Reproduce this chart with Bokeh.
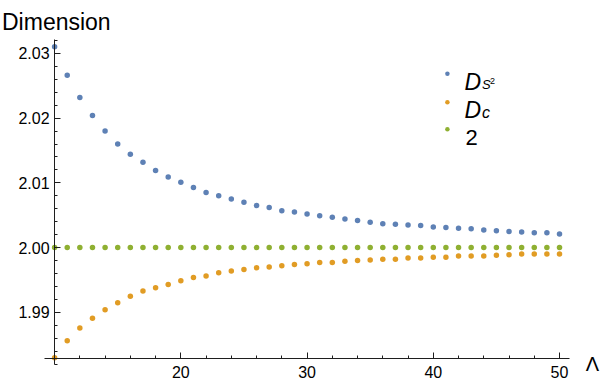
from bokeh.plotting import figure
from bokeh.models import Range1d, LinearAxis, FixedTicker, PrintfTickFormatter, Label
from bokeh.embed import file_html
from bokeh.resources import INLINE

# ---------------- data ----------------
lam = [10, 11, 12, 13, 14, 15, 16, 17, 18, 19, 20, 21, 22, 23, 24, 25, 26, 27, 28, 29,
       30, 31, 32, 33, 34, 35, 36, 37, 38, 39, 40, 41, 42, 43, 44, 45, 46, 47, 48, 49, 50]

d_s2 = [2.0310, 2.0266, 2.0232, 2.0204, 2.0180, 2.0160, 2.0144, 2.0132, 2.0119, 2.0109,
        2.0101, 2.0093, 2.0085, 2.0080, 2.0075, 2.0070, 2.0065, 2.0062, 2.0057, 2.0055,
        2.0052, 2.0049, 2.0047, 2.0044, 2.0042, 2.0039, 2.0037, 2.0036, 2.0035, 2.0034,
        2.0032, 2.0031, 2.0030, 2.0029, 2.0027, 2.0026, 2.0025, 2.0024, 2.0023, 2.0023,
        2.0021]

d_c = [1.9830, 1.9856, 1.9876, 1.9891, 1.9904, 1.9915, 1.9925, 1.9933, 1.9938, 1.9943,
       1.9949, 1.9954, 1.9956, 1.9961, 1.9964, 1.9966, 1.9969, 1.9970, 1.9972, 1.9974,
       1.9975, 1.9977, 1.9977, 1.9979, 1.9980, 1.9981, 1.9982, 1.9982, 1.9984, 1.9984,
       1.9985, 1.9985, 1.9987, 1.9987, 1.9987, 1.9988, 1.9989, 1.9990, 1.9990, 1.9990,
       1.9990]

two = [2.0, 2.0, 2.0, 2.0, 2.0, 2.0, 2.0, 2.0, 2.0, 2.0,
       2.0, 2.0, 2.0, 2.0, 2.0, 2.0, 2.0, 2.0, 2.0, 2.0,
       2.0, 2.0, 2.0, 2.0, 2.0, 2.0, 2.0, 2.0, 2.0, 2.0,
       2.0, 2.0, 2.0, 2.0, 2.0, 2.0, 2.0, 2.0, 2.0, 2.0,
       2.0]

x_major = [20, 30, 40, 50]
x_minor = [12, 14, 16, 18, 22, 24, 26, 28, 32, 34, 36, 38, 42, 44, 46, 48]
y_major = [1.99, 2.00, 2.01, 2.02, 2.03]
y_minor = [1.982, 1.984, 1.986, 1.988, 1.992, 1.994, 1.996, 1.998, 2.002, 2.004,
           2.006, 2.008, 2.012, 2.014, 2.016, 2.018, 2.022, 2.024, 2.026, 2.028, 2.032]

BLUE = "#5E81B5"
ORANGE = "#E19C24"
GREEN = "#8FB032"
FONT = "Liberation Sans"
AXC = "#1e1e1e"

# ---------------- layout ----------------
W, H = 601, 388
X0, X1 = 5.714, 53.326
Y0, Y1 = 1.978240, 2.038162


def dx(sx):
    return X0 + sx / W * (X1 - X0)


def dy(sy):
    return Y1 - sy / H * (Y1 - Y0)


p = figure(width=W, height=H, x_range=Range1d(X0, X1), y_range=Range1d(Y0, Y1),
           output_backend="svg", toolbar_location=None,
           x_axis_type=None, y_axis_type=None, min_border=0)
p.title.visible = False
p.outline_line_color = None
p.background_fill_color = "white"
p.border_fill_color = "white"

xaxis = LinearAxis(fixed_location=1.98292, bounds=(9.2, 50.8),
                   ticker=FixedTicker(ticks=x_major, minor_ticks=x_minor),
                   formatter=PrintfTickFormatter(format="%d"))
yaxis = LinearAxis(fixed_location=10, bounds=(1.9819, 2.0321),
                   ticker=FixedTicker(ticks=y_major, minor_ticks=y_minor),
                   formatter=PrintfTickFormatter(format="%.2f"))
for ax in (xaxis, yaxis):
    ax.axis_line_color = AXC
    ax.axis_line_width = 1
    ax.major_tick_line_color = AXC
    ax.minor_tick_line_color = AXC
    ax.major_tick_in = 6
    ax.major_tick_out = 0
    ax.minor_tick_in = 3
    ax.minor_tick_out = 0
    ax.major_label_text_font = FONT
    ax.major_label_text_font_size = "16px"
    ax.major_label_text_color = "black"
xaxis.major_label_standoff = 8
yaxis.major_label_standoff = 5
p.add_layout(xaxis, "below")
p.add_layout(yaxis, "left")

p.scatter(lam, d_s2, size=5.5, color=BLUE, line_width=0)
p.scatter(lam, d_c, size=5.5, color=ORANGE, line_width=0)
p.scatter(lam, two, size=5.5, color=GREEN, line_width=0)

# axis titles
p.add_layout(Label(x=dx(1.5), y=dy(21.7), text="Dimension", text_font=FONT,
                   text_font_size="23px", text_baseline="alphabetic", text_align="left",
                   text_color="black"))
p.add_layout(Label(x=dx(598.5), y=dy(363.3), text="Λ", text_font=FONT,
                   text_font_size="20px", text_baseline="alphabetic", text_align="right",
                   text_color="black"))

# legend
leg_y = [73.3, 101.7, 128.7]
p.scatter([dx(446.9)] * 3, [dy(v) for v in leg_y], size=4.5,
          color=[BLUE, ORANGE, GREEN], line_width=0)


def lab(sx, sy, text, size, style="normal"):
    p.add_layout(Label(x=dx(sx), y=dy(sy), text=text, text_font=FONT,
                       text_font_size=size, text_font_style=style,
                       text_baseline="alphabetic", text_align="left", text_color="black"))


lab(464, 81.5, "D", "23px", "italic")
lab(481.5, 83.5, "S", "13px", "italic")
lab(489.5, 80, "2", "9px")
lab(464, 109.9, "D", "23px", "italic")
lab(481.5, 111.7, "c", "16px", "italic")
lab(465, 136.8, "2", "22px")

open("out.html", "w").write(file_html(p, INLINE))
